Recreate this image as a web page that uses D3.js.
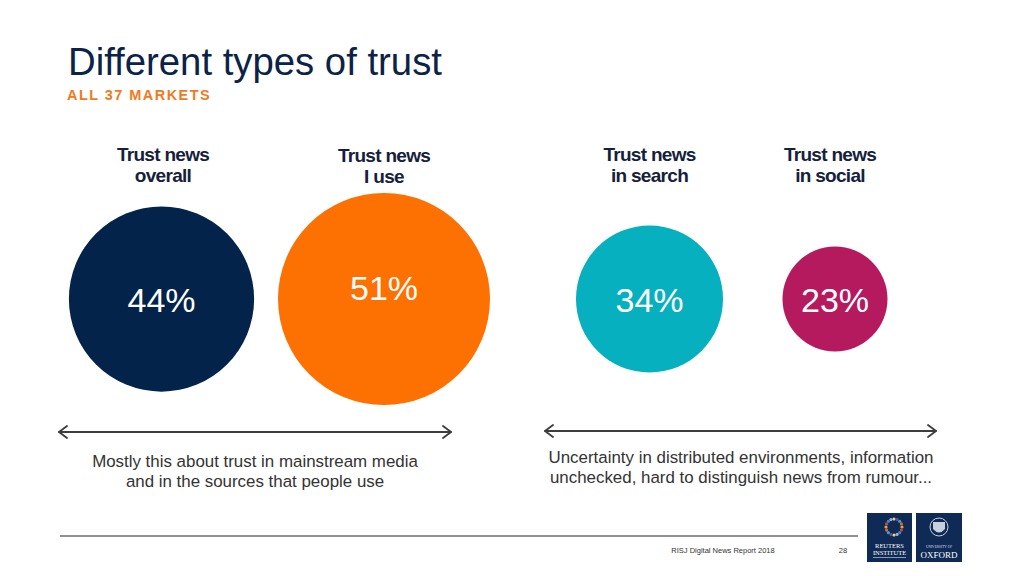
<!DOCTYPE html>
<html>
<head>
<meta charset="utf-8">
<script src="https://cdn.jsdelivr.net/npm/d3@7/dist/d3.min.js"></script>
<style>
  html, body { margin: 0; padding: 0; background: #fff; }
  svg { display: block; font-family: "Liberation Sans", Arial, Helvetica, sans-serif; }
</style>
</head>
<body>
<svg id="chart" width="1024" height="576"></svg>
<script>
// ---- Data ----
const title = "Different types of trust";
const subtitle = "ALL 37 MARKETS";
const categories = ["overall", "I use", "in search", "in social"];
const headingLines = [["Trust news", "overall"], ["Trust news", "I use"], ["Trust news", "in search"], ["Trust news", "in social"]];
const values = [44, 51, 34, 23];
const groupNotes = [
  ["Mostly this about trust in mainstream media", "and in the sources that people use"],
  ["Uncertainty in distributed environments, information", "unchecked, hard to distinguish news from rumour..."]
];
const footerText = "RISJ Digital News Report 2018";
const pageNumber = "28";

// ---- Layout / style ----
const W = 1024, H = 576;
const svg = d3.select("#chart");
const centerXs = [161.5, 384, 649.5, 835];
const headingDx = [1.5, 0, 0, -5];
const labelDy = [0, -12, 0, 0];
const cy = 299;
const palette = ["#03234b", "#fd7103", "#07b0bf", "#b51a5f"];

const x = d3.scaleOrdinal().domain(categories).range(centerXs);
const color = d3.scaleOrdinal().domain(categories).range(palette);
const r = d3.scaleLinear().domain([23, 51]).range([52.5, 106]);

// Title
svg.append("text").attr("x", 68).attr("y", 75)
  .attr("font-size", 38.3).attr("fill", "#0b2346").text(title);
svg.append("text").attr("x", 67).attr("y", 100)
  .attr("font-size", 14.5).attr("font-weight", "bold").attr("letter-spacing", 1.45)
  .attr("fill", "#f07a1e").text(subtitle);

// Headings
const heads = svg.append("g").selectAll("text").data(categories).join("text")
  .attr("text-anchor", "middle")
  .attr("font-size", 19).attr("font-weight", "bold").attr("letter-spacing", -0.7)
  .attr("fill", "#15213c")
  .attr("transform", (d, i) => `translate(${x(d) + headingDx[i]},0)`);
heads.each(function(d, i) {
  const t = d3.select(this);
  headingLines[i].forEach((ln, j) => {
    t.append("tspan").attr("x", 0).attr("y", 160.5 + j * 21.5 + (i === 1 ? 1 : 0)).text(ln);
  });
});

// Circles
svg.append("g").selectAll("circle").data(categories).join("circle")
  .attr("cx", d => x(d)).attr("cy", cy)
  .attr("r", (d, i) => r(values[i]))
  .attr("fill", d => color(d));

// Value labels
svg.append("g").selectAll("text").data(categories).join("text")
  .attr("x", d => x(d)).attr("y", (d, i) => cy + 13 + labelDy[i])
  .attr("text-anchor", "middle").attr("font-size", 34).attr("fill", "#fff")
  .text((d, i) => values[i] + "%");

// Arrows
const arrowColor = "#3d3d3d";
function arrow(x1, x2, y) {
  const g = svg.append("g").attr("stroke", arrowColor).attr("fill", "none")
    .attr("stroke-width", 1.8).attr("stroke-linecap", "round").attr("stroke-linejoin", "round");
  g.append("line").attr("x1", x1).attr("x2", x2).attr("y1", y).attr("y2", y);
  g.append("path").attr("d", `M${x1 + 8},${y - 6} L${x1},${y} L${x1 + 8},${y + 6}`);
  g.append("path").attr("d", `M${x2 - 8},${y - 6} L${x2},${y} L${x2 - 8},${y + 6}`);
}
arrow(59, 451, 432);
arrow(545, 936, 431);

// Notes
const notePos = [{ x: 255, y: 467 }, { x: 741, y: 463 }];
svg.append("g").selectAll("text").data(groupNotes).join("text")
  .attr("text-anchor", "middle").attr("font-size", 16.9).attr("fill", "#333")
  .each(function(lines, i) {
    const t = d3.select(this);
    lines.forEach((ln, j) => {
      t.append("tspan").attr("x", notePos[i].x).attr("y", notePos[i].y + j * 20).text(ln);
    });
  });

// Footer
svg.append("line").attr("x1", 60).attr("x2", 858).attr("y1", 536).attr("y2", 536)
  .attr("stroke", "#222").attr("stroke-width", 1);
svg.append("text").attr("x", 723).attr("y", 553).attr("text-anchor", "middle")
  .attr("font-size", 7.5).attr("fill", "#333").text(footerText);
svg.append("text").attr("x", 843).attr("y", 553).attr("text-anchor", "middle")
  .attr("font-size", 7.5).attr("fill", "#333").text(pageNumber);

// Logos
const logoFill = "#0f2a55";
const lg1 = svg.append("g").attr("transform", "translate(867,513)");
lg1.append("rect").attr("width", 45).attr("height", 49).attr("fill", logoFill);
const dotColors = ["#e8a33d", "#c04a3c", "#4a7fc1", "#8fb3d9", "#f0d27a", "#6a4c93", "#3aa0c8", "#d76a2c"];
d3.range(16).forEach(k => {
  const a = k / 16 * 2 * Math.PI;
  lg1.append("circle").attr("cx", 27 + 8 * Math.cos(a)).attr("cy", 14 + 8 * Math.sin(a))
    .attr("r", 1.6).attr("fill", dotColors[k % dotColors.length]);
});
lg1.append("text").attr("x", 22.5).attr("y", 35).attr("text-anchor", "middle")
  .attr("font-family", "Liberation Serif, serif").attr("font-size", 6.5).attr("fill", "#fff").text("REUTERS");
lg1.append("text").attr("x", 22.5).attr("y", 41.5).attr("text-anchor", "middle")
  .attr("font-family", "Liberation Serif, serif").attr("font-size", 6.5).attr("fill", "#fff").text("INSTITUTE");
lg1.append("rect").attr("x", 6).attr("y", 44).attr("width", 33).attr("height", 1).attr("fill", "#8899bb");

const lg2 = svg.append("g").attr("transform", "translate(916,513)");
lg2.append("rect").attr("width", 46).attr("height", 49).attr("fill", logoFill);
lg2.append("circle").attr("cx", 23).attr("cy", 14).attr("r", 9).attr("fill", "none").attr("stroke", "#c8d0e0").attr("stroke-width", 1);
lg2.append("path").attr("d", "M17,9 L29,9 L29,16 Q23,23 17,16 Z").attr("fill", "#c8d0e0");
lg2.append("text").attr("x", 23).attr("y", 35).attr("text-anchor", "middle")
  .attr("font-family", "Liberation Serif, serif").attr("font-size", 3.5).attr("fill", "#dde").text("UNIVERSITY OF");
lg2.append("text").attr("x", 23).attr("y", 45).attr("text-anchor", "middle")
  .attr("font-family", "Liberation Serif, serif").attr("font-size", 9).attr("fill", "#fff").text("OXFORD");
</script>
</body>
</html>
